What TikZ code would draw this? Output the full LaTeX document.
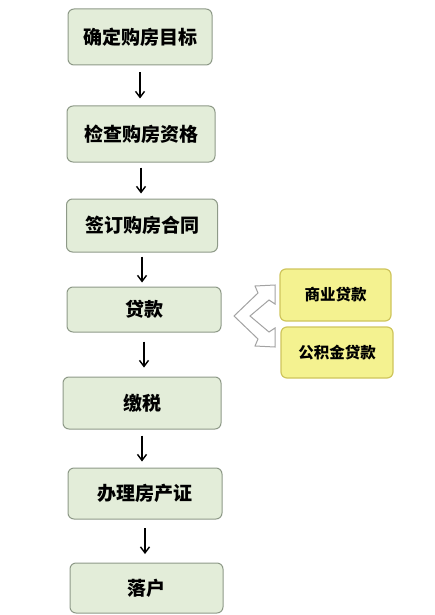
\documentclass[tikz,border=0pt]{standalone}
\usepackage{fontspec}
\newfontfamily\cjk{Noto Sans CJK SC}
\usetikzlibrary{arrows.meta}
\definecolor{stepfill}{HTML}{E3EDD9}
\definecolor{stepedge}{HTML}{8E9A88}
\definecolor{loanfill}{HTML}{F4F290}
\definecolor{loanedge}{HTML}{CFC55C}
\definecolor{forkedge}{HTML}{A3A3A3}
\tikzset{
    stepbox/.style={draw=stepedge, fill=stepfill, rounded corners=6pt, line width=1pt,
        inner sep=0pt, font=\cjk\bfseries\fontsize{19}{21}\selectfont},
    loanbox/.style={draw=loanedge, fill=loanfill, rounded corners=6pt, line width=1.2pt,
        inner sep=0pt, font=\cjk\bfseries\fontsize{15.5}{18}\selectfont},
    flow/.style={-{Straight Barb[length=6pt,width=9pt]}, line width=1.4pt,
        shorten <=#1, shorten >=#1}
}
\begin{document}
\begin{tikzpicture}[x=1pt, y=-1pt]
    \useasboundingbox (0,0) rectangle (434,615);
    % Steps
    \node [stepbox, minimum width=144pt, minimum height=56pt] (goal) at (140,37) {确定购房目标};
    \node [stepbox, minimum width=148pt, minimum height=56pt] (check) at (141,134) {检查购房资格};
    \node [stepbox, minimum width=151pt, minimum height=53pt] (sign) at (142,225.5) {签订购房合同};
    \node [stepbox, minimum width=154pt, minimum height=45pt] (loan) at (144,309.5) {贷款};
    \node [stepbox, minimum width=158pt, minimum height=52pt] (tax) at (142,403) {缴税};
    \node [stepbox, minimum width=154pt, minimum height=51pt] (deed) at (145,493.5) {办理房产证};
    \node [stepbox, minimum width=153pt, minimum height=50pt] (settle) at (146.5,588) {落户};
    % Loan types
    \node [loanbox, minimum width=111pt, minimum height=52pt] (bank) at (335.5,295) {商业贷款};
    \node [loanbox, minimum width=112pt, minimum height=51pt] (fund) at (337,352.5) {公积金贷款};
    % Arrows
    \draw [flow=7pt] (goal.south) -- (goal.south |- check.north);
    \draw [flow=5pt] (check.south) -- (check.south |- sign.north);
    \draw [flow=4pt] (sign.south) -- (sign.south |- loan.north);
    \draw [flow=9pt] (loan.south) -- (loan.south |- tax.north);
    \draw [flow=6pt] (tax.south) -- (tax.south |- deed.north);
    \draw [flow=8.5pt] (deed.south) -- (deed.south |- settle.north);
    % Fork arrow
    \draw [forkedge, fill=white, line width=1pt, line join=miter]
        (234,316) -- (258,293) -- (255,286) -- (275,285) -- (275,304) -- (269,300)
        -- (250,316) -- (269,332) -- (275,328) -- (275,347) -- (255,346) -- (258,339) -- cycle;
\end{tikzpicture}
\end{document}
